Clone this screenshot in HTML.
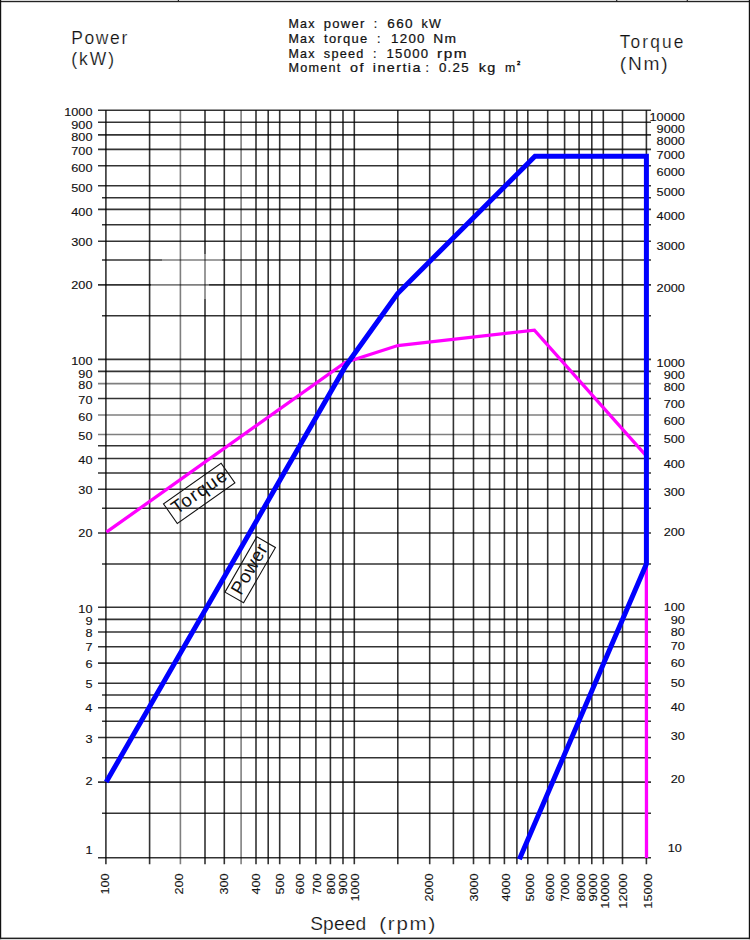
<!DOCTYPE html><html><head><meta charset="utf-8"><style>html,body{margin:0;padding:0;background:#fff;width:750px;height:940px;overflow:hidden}svg{display:block}text{font-family:"Liberation Sans", sans-serif}</style></head><body>
<svg width="750" height="940" viewBox="0 0 750 940">
<rect x="0" y="0" width="750" height="940" fill="#fff"/>
<rect x="0" y="0" width="750" height="1" fill="#d8d8d8"/>
<rect x="0" y="1" width="750" height="1.2" fill="#222"/>
<rect x="177.8" y="0" width="1.2" height="1.5" fill="#222"/>
<rect x="616.1" y="0" width="1.2" height="1.5" fill="#222"/>
<rect x="686.7" y="0" width="1.2" height="1.5" fill="#222"/>
<rect x="0" y="0" width="1.2" height="940" fill="#111"/>
<rect x="748.8" y="0" width="1.2" height="940" fill="#111"/>
<rect x="0" y="937.6" width="750" height="1.6" fill="#222"/>
<rect x="0" y="939.2" width="750" height="0.8" fill="#e0e0e0"/>
<path d="M98.0 110.30H651M98.0 122.20H651M98.0 134.90H651M98.0 149.40H651M98.0 165.80H651M98.0 185.70H651M102.0 197.70H651M98.0 209.40H651M102.0 224.70H651M98.0 241.30H651M102.0 260.00H162.0M222.0 260.00H651M98.0 284.90H151.0M209.0 284.90H651M102.0 315.70H651M98.0 359.40H651M98.0 371.40H651M98.0 398.50H651M98.0 445.80H651M98.0 458.50H651M98.0 473.00H651M98.0 489.30H651M102.0 508.30H651M98.0 533.00H651M102.0 564.00H651M98.0 607.30H651M98.0 619.40H651M98.0 632.00H651M98.0 646.80H651M98.0 663.10H651M98.0 683.20H651M102.0 695.00H651M98.0 707.70H651M102.0 721.30H651M98.0 737.50H651M102.0 757.70H651M98.0 782.10H651M102.0 813.20H651M98.0 857.80H651" stroke="#000" stroke-opacity="0.80" stroke-width="1.6" fill="none"/>
<path d="M162.0 260.00H222.0M151.0 284.90H209.0M98.0 383.60H651M98.0 415.00H651M98.0 434.50H651" stroke="#000" stroke-opacity="0.50" stroke-width="1.6" fill="none"/>
<path d="M105.90 110.3V864.3M149.60 110.3V864.3M205.00 110.3V254.0M205.00 299.0V864.3M224.30 110.3V864.3M256.00 110.3V864.3M268.20 110.3V864.3M279.70 110.3V864.3M299.80 110.3V864.3M315.90 110.3V864.3M330.40 110.3V864.3M343.00 110.3V864.3M354.30 110.3V864.3M397.80 110.3V864.3M429.70 110.3V864.3M453.40 110.3V864.3M473.50 110.3V864.3M489.60 110.3V864.3M504.40 110.3V864.3M516.90 110.3V864.3M527.80 110.3V864.3M547.70 110.3V864.3M564.60 110.3V864.3M579.10 110.3V864.3M591.80 110.3V864.3M603.30 110.3V864.3M622.50 110.3V864.3M646.40 110.3V864.3" stroke="#000" stroke-opacity="0.80" stroke-width="1.6" fill="none"/>
<path d="M180.40 110.3V864.3M205.00 254.0V299.0M241.10 110.3V864.3" stroke="#000" stroke-opacity="0.50" stroke-width="1.6" fill="none"/>
<polyline points="106.4,532.2 345.2,362.4 397.8,345.5 534.4,330.2 646.3,456.0 646.5,858.0" fill="none" stroke="#ff00ff" stroke-width="3.3" stroke-linejoin="miter"/>
<polyline points="106.2,782.0 345.5,366.2 397.6,293.5 535.0,156.3 646.4,156.3 646.4,564.0 519.4,859.3" fill="none" stroke="#0000ff" stroke-width="5" stroke-linejoin="miter"/>
<text transform="translate(64.21,116.24) scale(1.2000,1)" font-size="10.60" fill="#111" stroke="#111" stroke-width="0.12">1000</text>
<text transform="translate(71.27,128.64) scale(1.2000,1)" font-size="10.60" fill="#111" stroke="#111" stroke-width="0.12">900</text>
<text transform="translate(71.27,141.24) scale(1.2000,1)" font-size="10.60" fill="#111" stroke="#111" stroke-width="0.12">800</text>
<text transform="translate(71.27,155.44) scale(1.2000,1)" font-size="10.60" fill="#111" stroke="#111" stroke-width="0.12">700</text>
<text transform="translate(71.27,171.64) scale(1.2000,1)" font-size="10.60" fill="#111" stroke="#111" stroke-width="0.12">600</text>
<text transform="translate(71.27,192.24) scale(1.2000,1)" font-size="10.60" fill="#111" stroke="#111" stroke-width="0.12">500</text>
<text transform="translate(71.27,215.74) scale(1.2000,1)" font-size="10.60" fill="#111" stroke="#111" stroke-width="0.12">400</text>
<text transform="translate(71.27,245.54) scale(1.2000,1)" font-size="10.60" fill="#111" stroke="#111" stroke-width="0.12">300</text>
<text transform="translate(71.27,288.64) scale(1.2000,1)" font-size="10.60" fill="#111" stroke="#111" stroke-width="0.12">200</text>
<text transform="translate(71.27,365.24) scale(1.2000,1)" font-size="10.60" fill="#111" stroke="#111" stroke-width="0.12">100</text>
<text transform="translate(78.36,377.64) scale(1.2000,1)" font-size="10.60" fill="#111" stroke="#111" stroke-width="0.12">90</text>
<text transform="translate(78.36,389.44) scale(1.2000,1)" font-size="10.60" fill="#111" stroke="#111" stroke-width="0.12">80</text>
<text transform="translate(78.36,404.24) scale(1.2000,1)" font-size="10.60" fill="#111" stroke="#111" stroke-width="0.12">70</text>
<text transform="translate(78.36,420.64) scale(1.2000,1)" font-size="10.60" fill="#111" stroke="#111" stroke-width="0.12">60</text>
<text transform="translate(78.36,440.44) scale(1.2000,1)" font-size="10.60" fill="#111" stroke="#111" stroke-width="0.12">50</text>
<text transform="translate(78.36,464.44) scale(1.2000,1)" font-size="10.60" fill="#111" stroke="#111" stroke-width="0.12">40</text>
<text transform="translate(78.36,493.94) scale(1.2000,1)" font-size="10.60" fill="#111" stroke="#111" stroke-width="0.12">30</text>
<text transform="translate(78.36,536.54) scale(1.2000,1)" font-size="10.60" fill="#111" stroke="#111" stroke-width="0.12">20</text>
<text transform="translate(78.36,612.74) scale(1.2000,1)" font-size="10.60" fill="#111" stroke="#111" stroke-width="0.12">10</text>
<text transform="translate(85.51,625.24) scale(1.2000,1)" font-size="10.60" fill="#111" stroke="#111" stroke-width="0.12">9</text>
<text transform="translate(85.48,637.24) scale(1.2000,1)" font-size="10.60" fill="#111" stroke="#111" stroke-width="0.12">8</text>
<text transform="translate(85.58,651.14) scale(1.2000,1)" font-size="10.60" fill="#111" stroke="#111" stroke-width="0.12">7</text>
<text transform="translate(85.48,667.94) scale(1.2000,1)" font-size="10.60" fill="#111" stroke="#111" stroke-width="0.12">6</text>
<text transform="translate(85.45,688.19) scale(1.2000,1)" font-size="10.60" fill="#111" stroke="#111" stroke-width="0.12">5</text>
<text transform="translate(85.29,711.94) scale(1.2000,1)" font-size="10.60" fill="#111" stroke="#111" stroke-width="0.12">4</text>
<text transform="translate(85.48,742.64) scale(1.2000,1)" font-size="10.60" fill="#111" stroke="#111" stroke-width="0.12">3</text>
<text transform="translate(85.58,785.00) scale(1.2000,1)" font-size="10.60" fill="#111" stroke="#111" stroke-width="0.12">2</text>
<text transform="translate(85.54,853.54) scale(1.2000,1)" font-size="10.60" fill="#111" stroke="#111" stroke-width="0.12">1</text>
<text transform="translate(649.52,120.64) scale(1.2000,1)" font-size="10.60" fill="#111" stroke="#111" stroke-width="0.12">10000</text>
<text transform="translate(656.61,132.94) scale(1.2000,1)" font-size="10.60" fill="#111" stroke="#111" stroke-width="0.12">9000</text>
<text transform="translate(656.61,145.14) scale(1.2000,1)" font-size="10.60" fill="#111" stroke="#111" stroke-width="0.12">8000</text>
<text transform="translate(656.61,158.94) scale(1.2000,1)" font-size="10.60" fill="#111" stroke="#111" stroke-width="0.12">7000</text>
<text transform="translate(656.61,175.94) scale(1.2000,1)" font-size="10.60" fill="#111" stroke="#111" stroke-width="0.12">6000</text>
<text transform="translate(656.61,195.64) scale(1.2000,1)" font-size="10.60" fill="#111" stroke="#111" stroke-width="0.12">5000</text>
<text transform="translate(656.61,219.74) scale(1.2000,1)" font-size="10.60" fill="#111" stroke="#111" stroke-width="0.12">4000</text>
<text transform="translate(656.61,249.54) scale(1.2000,1)" font-size="10.60" fill="#111" stroke="#111" stroke-width="0.12">3000</text>
<text transform="translate(656.61,292.04) scale(1.2000,1)" font-size="10.60" fill="#111" stroke="#111" stroke-width="0.12">2000</text>
<text transform="translate(656.61,366.64) scale(1.2000,1)" font-size="10.60" fill="#111" stroke="#111" stroke-width="0.12">1000</text>
<text transform="translate(663.67,379.14) scale(1.2000,1)" font-size="10.60" fill="#111" stroke="#111" stroke-width="0.12">900</text>
<text transform="translate(663.67,391.14) scale(1.2000,1)" font-size="10.60" fill="#111" stroke="#111" stroke-width="0.12">800</text>
<text transform="translate(663.67,407.74) scale(1.2000,1)" font-size="10.60" fill="#111" stroke="#111" stroke-width="0.12">700</text>
<text transform="translate(663.67,425.04) scale(1.2000,1)" font-size="10.60" fill="#111" stroke="#111" stroke-width="0.12">600</text>
<text transform="translate(663.67,443.24) scale(1.2000,1)" font-size="10.60" fill="#111" stroke="#111" stroke-width="0.12">500</text>
<text transform="translate(663.67,468.24) scale(1.2000,1)" font-size="10.60" fill="#111" stroke="#111" stroke-width="0.12">400</text>
<text transform="translate(663.67,495.94) scale(1.2000,1)" font-size="10.60" fill="#111" stroke="#111" stroke-width="0.12">300</text>
<text transform="translate(663.67,535.94) scale(1.2000,1)" font-size="10.60" fill="#111" stroke="#111" stroke-width="0.12">200</text>
<text transform="translate(663.67,611.14) scale(1.2000,1)" font-size="10.60" fill="#111" stroke="#111" stroke-width="0.12">100</text>
<text transform="translate(670.76,623.84) scale(1.2000,1)" font-size="10.60" fill="#111" stroke="#111" stroke-width="0.12">90</text>
<text transform="translate(670.76,636.04) scale(1.2000,1)" font-size="10.60" fill="#111" stroke="#111" stroke-width="0.12">80</text>
<text transform="translate(670.76,650.44) scale(1.2000,1)" font-size="10.60" fill="#111" stroke="#111" stroke-width="0.12">70</text>
<text transform="translate(670.76,666.94) scale(1.2000,1)" font-size="10.60" fill="#111" stroke="#111" stroke-width="0.12">60</text>
<text transform="translate(670.76,687.04) scale(1.2000,1)" font-size="10.60" fill="#111" stroke="#111" stroke-width="0.12">50</text>
<text transform="translate(670.76,710.64) scale(1.2000,1)" font-size="10.60" fill="#111" stroke="#111" stroke-width="0.12">40</text>
<text transform="translate(670.76,740.44) scale(1.2000,1)" font-size="10.60" fill="#111" stroke="#111" stroke-width="0.12">30</text>
<text transform="translate(670.76,782.84) scale(1.2000,1)" font-size="10.60" fill="#111" stroke="#111" stroke-width="0.12">20</text>
<text transform="translate(667.76,851.64) scale(1.2000,1)" font-size="10.60" fill="#111" stroke="#111" stroke-width="0.12">10</text>
<text transform="translate(109.44,894.53) rotate(-90) scale(1.2000,1)" font-size="10.60" fill="#111" stroke="#111" stroke-width="0.12">100</text>
<text transform="translate(183.34,894.53) rotate(-90) scale(1.2000,1)" font-size="10.60" fill="#111" stroke="#111" stroke-width="0.12">200</text>
<text transform="translate(228.44,894.53) rotate(-90) scale(1.2000,1)" font-size="10.60" fill="#111" stroke="#111" stroke-width="0.12">300</text>
<text transform="translate(260.14,894.53) rotate(-90) scale(1.2000,1)" font-size="10.60" fill="#111" stroke="#111" stroke-width="0.12">400</text>
<text transform="translate(284.14,894.53) rotate(-90) scale(1.2000,1)" font-size="10.60" fill="#111" stroke="#111" stroke-width="0.12">500</text>
<text transform="translate(304.14,894.53) rotate(-90) scale(1.2000,1)" font-size="10.60" fill="#111" stroke="#111" stroke-width="0.12">600</text>
<text transform="translate(320.64,894.53) rotate(-90) scale(1.2000,1)" font-size="10.60" fill="#111" stroke="#111" stroke-width="0.12">700</text>
<text transform="translate(334.64,894.53) rotate(-90) scale(1.2000,1)" font-size="10.60" fill="#111" stroke="#111" stroke-width="0.12">800</text>
<text transform="translate(347.24,894.53) rotate(-90) scale(1.2000,1)" font-size="10.60" fill="#111" stroke="#111" stroke-width="0.12">900</text>
<text transform="translate(358.64,901.59) rotate(-90) scale(1.2000,1)" font-size="10.60" fill="#111" stroke="#111" stroke-width="0.12">1000</text>
<text transform="translate(433.24,901.59) rotate(-90) scale(1.2000,1)" font-size="10.60" fill="#111" stroke="#111" stroke-width="0.12">2000</text>
<text transform="translate(478.04,901.59) rotate(-90) scale(1.2000,1)" font-size="10.60" fill="#111" stroke="#111" stroke-width="0.12">3000</text>
<text transform="translate(509.64,901.59) rotate(-90) scale(1.2000,1)" font-size="10.60" fill="#111" stroke="#111" stroke-width="0.12">4000</text>
<text transform="translate(533.64,901.59) rotate(-90) scale(1.2000,1)" font-size="10.60" fill="#111" stroke="#111" stroke-width="0.12">5000</text>
<text transform="translate(553.64,901.59) rotate(-90) scale(1.2000,1)" font-size="10.60" fill="#111" stroke="#111" stroke-width="0.12">6000</text>
<text transform="translate(569.24,901.59) rotate(-90) scale(1.2000,1)" font-size="10.60" fill="#111" stroke="#111" stroke-width="0.12">7000</text>
<text transform="translate(584.64,901.59) rotate(-90) scale(1.2000,1)" font-size="10.60" fill="#111" stroke="#111" stroke-width="0.12">8000</text>
<text transform="translate(597.14,901.59) rotate(-90) scale(1.2000,1)" font-size="10.60" fill="#111" stroke="#111" stroke-width="0.12">9000</text>
<text transform="translate(609.14,908.68) rotate(-90) scale(1.2000,1)" font-size="10.60" fill="#111" stroke="#111" stroke-width="0.12">10000</text>
<text transform="translate(626.84,908.68) rotate(-90) scale(1.2000,1)" font-size="10.60" fill="#111" stroke="#111" stroke-width="0.12">12000</text>
<text transform="translate(651.64,908.68) rotate(-90) scale(1.2000,1)" font-size="10.60" fill="#111" stroke="#111" stroke-width="0.12">15000</text>
<text transform="translate(71.16,43.50) scale(0.9200,1)" font-size="19.00" letter-spacing="1.779" fill="#111" stroke="#fff" stroke-width="0.20" xml:space="preserve">Power</text>
<text transform="translate(71.21,64.80) scale(0.9200,1)" font-size="19.00" letter-spacing="2.175" fill="#111" stroke="#fff" stroke-width="0.20" xml:space="preserve">(kW)</text>
<text transform="translate(619.81,47.60) scale(0.9200,1)" font-size="18.80" letter-spacing="2.313" fill="#111" stroke="#fff" stroke-width="0.20" xml:space="preserve">Torque</text>
<text transform="translate(619.80,69.60) scale(1.0200,1)" font-size="18.80" letter-spacing="1.708" fill="#111" stroke="#fff" stroke-width="0.20" xml:space="preserve">(Nm)</text>
<text transform="translate(310.14,929.60) scale(1.0500,1)" font-size="18.30" letter-spacing="0.127" fill="#111" stroke="#fff" stroke-width="0.20" xml:space="preserve">Speed</text>
<text transform="translate(379.22,929.60) scale(1.1200,1)" font-size="18.30" letter-spacing="1.591" fill="#111" stroke="#fff" stroke-width="0.20" xml:space="preserve">(rpm)</text>
<text transform="translate(288.47,27.60) scale(1.0131,1)" font-size="12.30" letter-spacing="1.200" fill="#111" stroke="#111" stroke-width="0.22" xml:space="preserve">Max</text>
<text transform="translate(323.85,27.60) scale(1.0589,1)" font-size="12.30" letter-spacing="1.200" fill="#111" stroke="#111" stroke-width="0.22" xml:space="preserve">power</text>
<text transform="translate(373.68,27.60) scale(1.0000,1)" font-size="12.30" letter-spacing="0.000" fill="#111" stroke="#111" stroke-width="0.22" xml:space="preserve">:</text>
<text transform="translate(387.32,27.60) scale(1.0992,1)" font-size="12.30" letter-spacing="1.200" fill="#111" stroke="#111" stroke-width="0.22" xml:space="preserve">660</text>
<text transform="translate(421.56,27.60) scale(1.0176,1)" font-size="12.30" letter-spacing="1.200" fill="#111" stroke="#111" stroke-width="0.22" xml:space="preserve">kW</text>
<text transform="translate(288.47,43.30) scale(1.0131,1)" font-size="12.30" letter-spacing="1.200" fill="#111" stroke="#111" stroke-width="0.22" xml:space="preserve">Max</text>
<text transform="translate(324.01,43.30) scale(1.0557,1)" font-size="12.30" letter-spacing="1.200" fill="#111" stroke="#111" stroke-width="0.22" xml:space="preserve">torque</text>
<text transform="translate(376.88,43.30) scale(1.0000,1)" font-size="12.30" letter-spacing="0.000" fill="#111" stroke="#111" stroke-width="0.22" xml:space="preserve">:</text>
<text transform="translate(391.00,43.30) scale(1.0828,1)" font-size="12.30" letter-spacing="1.200" fill="#111" stroke="#111" stroke-width="0.22" xml:space="preserve">1200</text>
<text transform="translate(433.26,43.30) scale(1.1236,1)" font-size="12.30" letter-spacing="1.200" fill="#111" stroke="#111" stroke-width="0.22" xml:space="preserve">Nm</text>
<text transform="translate(288.47,57.70) scale(1.0131,1)" font-size="12.30" letter-spacing="1.200" fill="#111" stroke="#111" stroke-width="0.22" xml:space="preserve">Max</text>
<text transform="translate(323.85,57.70) scale(1.0328,1)" font-size="12.30" letter-spacing="1.200" fill="#111" stroke="#111" stroke-width="0.22" xml:space="preserve">speed</text>
<text transform="translate(372.88,57.70) scale(1.0000,1)" font-size="12.30" letter-spacing="0.000" fill="#111" stroke="#111" stroke-width="0.22" xml:space="preserve">:</text>
<text transform="translate(386.41,57.70) scale(1.0715,1)" font-size="12.30" letter-spacing="1.200" fill="#111" stroke="#111" stroke-width="0.22" xml:space="preserve">15000</text>
<text transform="translate(437.06,57.70) scale(1.2479,1)" font-size="12.30" letter-spacing="1.200" fill="#111" stroke="#111" stroke-width="0.22" xml:space="preserve">rpm</text>
<text transform="translate(288.46,71.60) scale(1.0278,1)" font-size="12.30" letter-spacing="1.200" fill="#111" stroke="#111" stroke-width="0.22" xml:space="preserve">Moment</text>
<text transform="translate(349.99,71.60) scale(1.1692,1)" font-size="12.30" letter-spacing="1.200" fill="#111" stroke="#111" stroke-width="0.22" xml:space="preserve">of</text>
<text transform="translate(372.83,71.60) scale(1.1692,1)" font-size="12.30" letter-spacing="1.200" fill="#111" stroke="#111" stroke-width="0.22" xml:space="preserve">inertia</text>
<text transform="translate(425.58,71.60) scale(1.0000,1)" font-size="12.30" letter-spacing="0.000" fill="#111" stroke="#111" stroke-width="0.22" xml:space="preserve">:</text>
<text transform="translate(438.97,71.60) scale(1.0776,1)" font-size="12.30" letter-spacing="1.200" fill="#111" stroke="#111" stroke-width="0.22" xml:space="preserve">0.25</text>
<text transform="translate(478.72,71.60) scale(1.1767,1)" font-size="12.30" letter-spacing="1.200" fill="#111" stroke="#111" stroke-width="0.22" xml:space="preserve">kg</text>
<text transform="translate(505.11,71.60) scale(1.0000,1)" font-size="12.30" letter-spacing="0.000" fill="#111" stroke="#111" stroke-width="0.22" xml:space="preserve">m</text>
<text transform="translate(516.99,64.60) scale(1.0000,1)" font-size="5.80" letter-spacing="0.000" fill="#111" stroke="#111" stroke-width="0.45" xml:space="preserve">2</text>
<g transform="translate(199.20,493.40) rotate(-35.10)">
<rect x="-35.20" y="-12.00" width="70.40" height="24.00" fill="none" stroke="#111" stroke-width="1.1"/>
<text transform="translate(-30.72,4.60) scale(1.0000,1)" font-size="18.50" letter-spacing="1.308" fill="#111">Torque</text>
</g>
<g transform="translate(250.20,569.80) rotate(-60.10)">
<rect x="-31.95" y="-10.75" width="63.90" height="21.50" fill="none" stroke="#111" stroke-width="1.1"/>
<text transform="translate(-27.33,5.00) scale(1.0000,1)" font-size="18.50" letter-spacing="0.589" fill="#111">Power</text>
</g>
</svg></body></html>
